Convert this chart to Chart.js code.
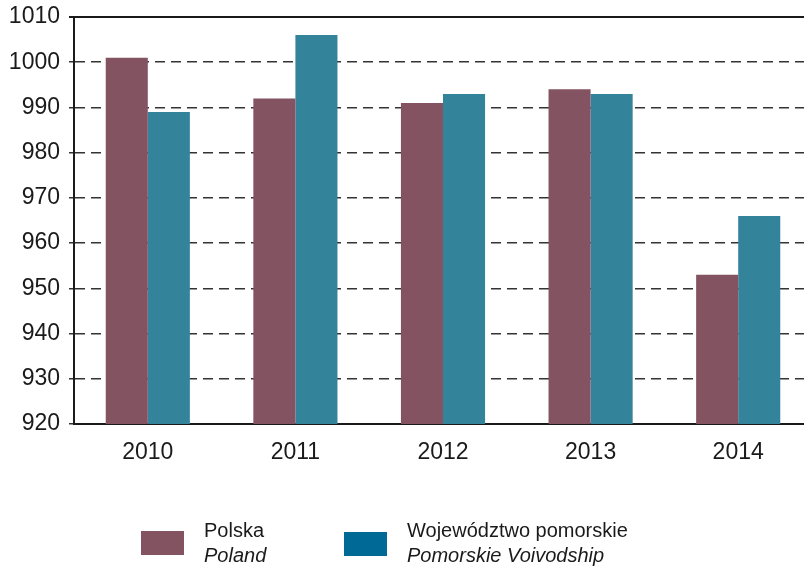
<!DOCTYPE html>
<html>
<head>
<meta charset="utf-8">
<script src="https://cdn.jsdelivr.net/npm/chart.js@4/dist/chart.umd.min.js"></script>
<style>
    html, body { margin: 0; padding: 0; background: #fff; overflow: hidden; }
    body { width: 804px; height: 566px; position: relative; font-family: 'Liberation Sans', Arial, sans-serif; color: #1a1a1a; }
    #wrap { position: absolute; left: 0; top: 0; width: 812px; height: 566px; }
    .sw { position: absolute; width: 43px; height: 24px; }
    .lt { position: absolute; font-size: 20px; line-height: 25px; }
    .lt i { display: block; }
</style>
</head>
<body>
<div id="wrap"><canvas id="chart"></canvas></div>

<div class="sw" style="left:141px; top:531px; background:#845362;"></div>
<div class="lt" style="left:204px; top:518px;">Polska<i>Poland</i></div>
<div class="sw" style="left:344px; top:532px; background:#006996;"></div>
<div class="lt" style="left:407px; top:518px;">Województwo pomorskie<i>Pomorskie Voivodship</i></div>

<script>
const years = ['2010', '2011', '2012', '2013', '2014'];
const polska = [1001, 992, 991, 994, 953];
const pomorskie = [989, 1006, 993, 993, 966];
const yMin = 920;
const yMax = 1010;
const yStep = 10;

const topLine = {
    id: 'topLine',
    afterDraw(chart) {
        const { ctx, chartArea } = chart;
        ctx.save();
        ctx.strokeStyle = '#1a1a1a';
        ctx.lineWidth = 2;
        ctx.beginPath();
        ctx.moveTo(chartArea.left - 5, chartArea.top);
        ctx.lineTo(chartArea.right, chartArea.top);
        ctx.stroke();
        ctx.restore();
    }
};

new Chart(document.getElementById('chart').getContext('2d'), {
    type: 'bar',
    data: {
        labels: years,
        datasets: [
            { label: 'Polska', data: polska, backgroundColor: '#845362' },
            { label: 'Województwo pomorskie', data: pomorskie, backgroundColor: '#33849b' }
        ]
    },
    options: {
        responsive: true,
        maintainAspectRatio: false,
        animation: false,
        layout: { padding: { top: 17, left: 0, right: 0, bottom: 0 } },
        datasets: { bar: { barPercentage: 1, categoryPercentage: 0.57, borderWidth: 0 } },
        plugins: { legend: { display: false }, tooltip: { enabled: false } },
        scales: {
            x: {
                grid: { display: false, drawTicks: false },
                border: { color: '#1a1a1a', width: 2 },
                ticks: { color: '#1a1a1a', font: { family: 'Liberation Sans', size: 23 }, padding: 15 },
                afterFit: scale => { scale.height = 142; }
            },
            y: {
                min: yMin,
                max: yMax,
                grid: { color: '#333', lineWidth: 1.5, tickLength: 5, tickBorderDash: [] },
                border: { color: '#1a1a1a', width: 2, dash: [10, 6] },
                ticks: {
                    stepSize: yStep,
                    color: '#1a1a1a',
                    font: { family: 'Liberation Sans', size: 23 },
                    padding: 9,
                    callback: value => String(value)
                },
                afterFit: scale => {
                    scale.width = 74;
                    scale.paddingTop = 0;
                    scale.paddingBottom = 0;
                }
            }
        }
    },
    plugins: [topLine]
});
</script>
</body>
</html>
